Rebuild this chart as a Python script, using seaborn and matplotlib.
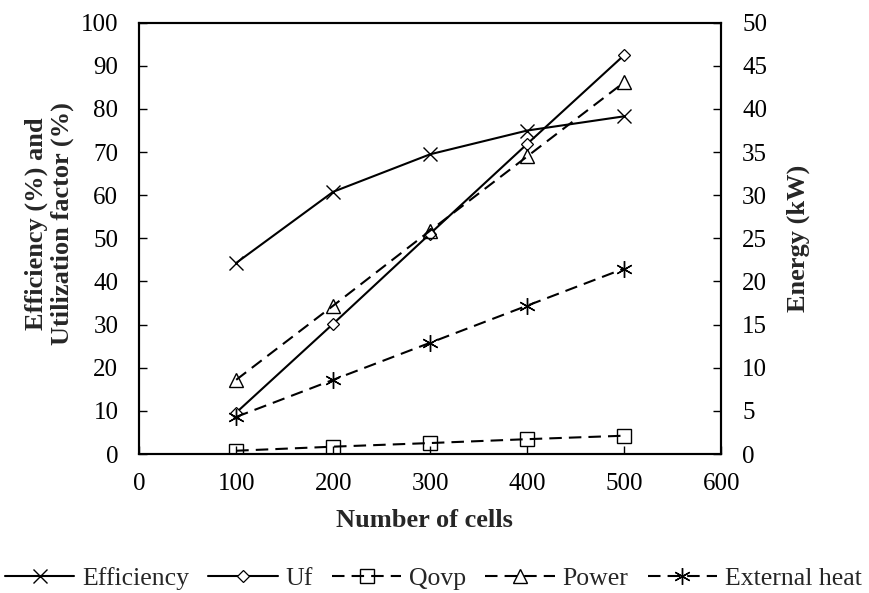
import matplotlib
matplotlib.use("Agg")
import matplotlib.pyplot as plt
import seaborn as sns
import pandas as pd

# Stack size sweep
cells = [100, 200, 300, 400, 500]

# Left axis (%)
efficiency = [44.3, 60.8, 69.5, 75.0, 78.3]
uf = [9.6, 30.2, 51.1, 71.9, 92.5]

# Right axis (kW)
qovp = [0.38, 0.85, 1.27, 1.72, 2.12]
power = [8.6, 17.2, 25.9, 34.5, 43.1]
external_heat = [4.3, 8.6, 12.9, 17.2, 21.5]

x_ticks = [0, 100, 200, 300, 400, 500, 600]
left_ticks = list(range(0, 101, 10))
right_ticks = list(range(0, 51, 5))

sns.set_theme(style="white")
plt.rcParams["font.family"] = ["Liberation Serif", "DejaVu Serif"]

tick_fs = 18
label_fs = 19
legend_fs = 18.5

fig = plt.figure(figsize=(8.7, 5.93), dpi=100)
ax = fig.add_axes([0.160, 0.2344, 0.669, 0.7273])
ax2 = ax.twinx()

left_df = pd.DataFrame({"cells": cells, "Efficiency": efficiency, "Uf": uf})
right_df = pd.DataFrame({"cells": cells, "Qovp": qovp, "Power": power,
                         "External heat": external_heat})

lw = 1.5
dash = (6, 3.4)

sns.lineplot(data=left_df, x="cells", y="Efficiency", ax=ax, color="black",
             lw=lw, marker="x", markersize=10, markeredgewidth=1.0,
             markeredgecolor="black", label="Efficiency", legend=False)
sns.lineplot(data=left_df, x="cells", y="Uf", ax=ax, color="black",
             lw=lw, marker="D", markersize=6, markerfacecolor="white",
             markeredgecolor="black", markeredgewidth=0.9,
             label="Uf", legend=False)

sns.lineplot(data=right_df, x="cells", y="Qovp", ax=ax2, color="black",
             lw=lw, marker="s", markersize=10, markerfacecolor="none",
             markeredgecolor="black", markeredgewidth=1.0,
             label="Qovp", legend=False)
sns.lineplot(data=right_df, x="cells", y="Power", ax=ax2, color="black",
             lw=lw, marker="^", markersize=10, markerfacecolor="none",
             markeredgecolor="black", markeredgewidth=1.0,
             label="Power", legend=False)
sns.lineplot(data=right_df, x="cells", y="External heat", ax=ax2, color="black",
             lw=lw, marker=(6, 2, 0), markersize=12, markeredgewidth=1.0,
             markeredgecolor="black", label="External heat", legend=False)
for line in ax2.get_lines():
    line.set_dashes(dash)

ax.set_xlim(0, 600)
ax.set_ylim(0, 100)
ax2.set_ylim(0, 50)
ax.set_xticks(x_ticks)
ax.set_yticks(left_ticks)
ax2.set_yticks(right_ticks)

ax.set_xlabel("Number of cells", fontsize=label_fs, fontweight="bold")
ax.set_ylabel("Efficiency (%) and\nUtilization factor (%)", fontsize=label_fs,
              fontweight="bold", linespacing=1.15)
ax2.set_ylabel("Energy (kW)", fontsize=label_fs, fontweight="bold")
ax.xaxis.set_label_coords(0.49, -0.128)
ax.yaxis.set_label_coords(-0.112, 0.535)
ax2.yaxis.set_label_coords(1.112, 0.5)

for a in (ax, ax2):
    a.tick_params(axis="both", direction="in", length=6, width=1.0,
                  labelsize=tick_fs, colors="black")
    for s in a.spines.values():
        s.set_color("black")
        s.set_linewidth(1.5)
ax.tick_params(axis="x", bottom=True, pad=13.5)
ax.tick_params(axis="y", left=True, pad=15)
ax2.tick_params(axis="y", right=True, pad=15)
ax.grid(False)
ax2.grid(False)

handles = ax.get_lines() + ax2.get_lines()
labels = [h.get_label() for h in handles]
fig.legend(handles, labels, loc="center", bbox_to_anchor=(0.498, 0.024),
           ncol=5, frameon=False, fontsize=legend_fs, handlelength=2.7,
           columnspacing=0.75, handletextpad=0.3, borderpad=0.2)

fig.savefig("out.png", dpi=100)
